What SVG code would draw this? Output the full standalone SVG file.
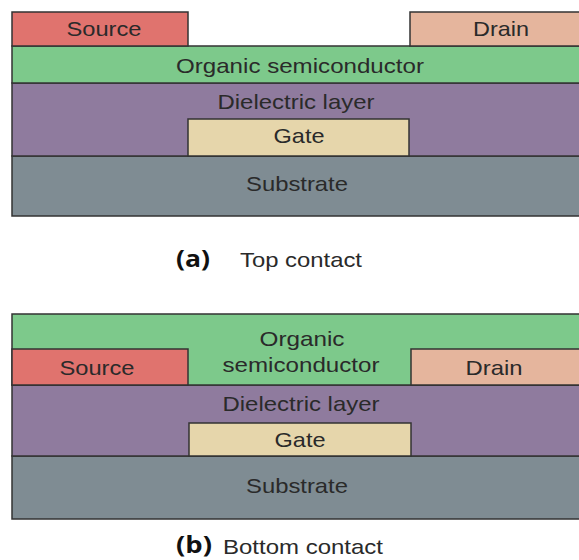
<svg xmlns="http://www.w3.org/2000/svg" width="579" height="560" viewBox="0 0 579 560">
<style>
.l{stroke:#333;stroke-width:1.5}
.src{fill:#E0736E}.drn{fill:#E5B59D}.org{fill:#7DC98B}.die{fill:#8F7B9E}.gate{fill:#E6D6AB}.sub{fill:#7F8C93}
text{font-family:"Liberation Sans",Arial,sans-serif;font-size:21px;fill:#2a2a2a;text-anchor:middle}
.lbl{font-family:"Open Sans","Liberation Sans",sans-serif;font-weight:bold;font-size:23px;fill:#111}
</style>
<rect width="579" height="560" fill="#fff"/>
<g id="top">
<g id="a-substrate"><rect class="l sub" x="12" y="156" width="580" height="60"/><text x="297" y="191" textLength="102" lengthAdjust="spacingAndGlyphs">Substrate</text></g>
<g id="a-dielectric"><rect class="l die" x="12" y="83" width="580" height="73"/><text x="296" y="109" textLength="157" lengthAdjust="spacingAndGlyphs">Dielectric layer</text></g>
<g id="a-gate"><rect class="l gate" x="188" y="119" width="221" height="37"/><text x="299" y="143" textLength="51" lengthAdjust="spacingAndGlyphs">Gate</text></g>
<g id="a-organic"><rect class="l org" x="12" y="46" width="580" height="37"/><text x="300" y="73" textLength="248" lengthAdjust="spacingAndGlyphs">Organic semiconductor</text></g>
<g id="a-source"><rect class="l src" x="12" y="12" width="176" height="34"/><text x="104" y="36" textLength="75" lengthAdjust="spacingAndGlyphs">Source</text></g>
<g id="a-drain"><rect class="l drn" x="410" y="12" width="180" height="34"/><text x="501" y="36" textLength="56" lengthAdjust="spacingAndGlyphs">Drain</text></g>
<g id="a-caption"><text class="lbl" x="193" y="267" textLength="34" lengthAdjust="spacingAndGlyphs">(a)</text><text x="301" y="267" textLength="122" lengthAdjust="spacingAndGlyphs">Top contact</text></g>
</g>
<g id="bottom">
<g id="b-substrate"><rect class="l sub" x="12" y="456" width="580" height="63"/><text x="297" y="493" textLength="102" lengthAdjust="spacingAndGlyphs">Substrate</text></g>
<g id="b-dielectric"><rect class="l die" x="12" y="385" width="580" height="71"/><text x="301" y="411" textLength="157" lengthAdjust="spacingAndGlyphs">Dielectric layer</text></g>
<g id="b-gate"><rect class="l gate" x="189" y="423" width="222" height="33"/><text x="300" y="447" textLength="51" lengthAdjust="spacingAndGlyphs">Gate</text></g>
<g id="b-organic"><rect class="l org" x="12" y="314" width="580" height="71"/><text x="302" y="346" textLength="85" lengthAdjust="spacingAndGlyphs">Organic</text><text x="301" y="372" textLength="157" lengthAdjust="spacingAndGlyphs">semiconductor</text></g>
<g id="b-source"><rect class="l src" x="12" y="349" width="176" height="36"/><text x="97" y="375" textLength="75" lengthAdjust="spacingAndGlyphs">Source</text></g>
<g id="b-drain"><rect class="l drn" x="411" y="349" width="180" height="36"/><text x="494" y="375" textLength="57" lengthAdjust="spacingAndGlyphs">Drain</text></g>
<g id="b-caption"><text class="lbl" x="194" y="553" textLength="36" lengthAdjust="spacingAndGlyphs">(b)</text><text x="303" y="554" textLength="160" lengthAdjust="spacingAndGlyphs">Bottom contact</text></g>
</g>
</svg>
